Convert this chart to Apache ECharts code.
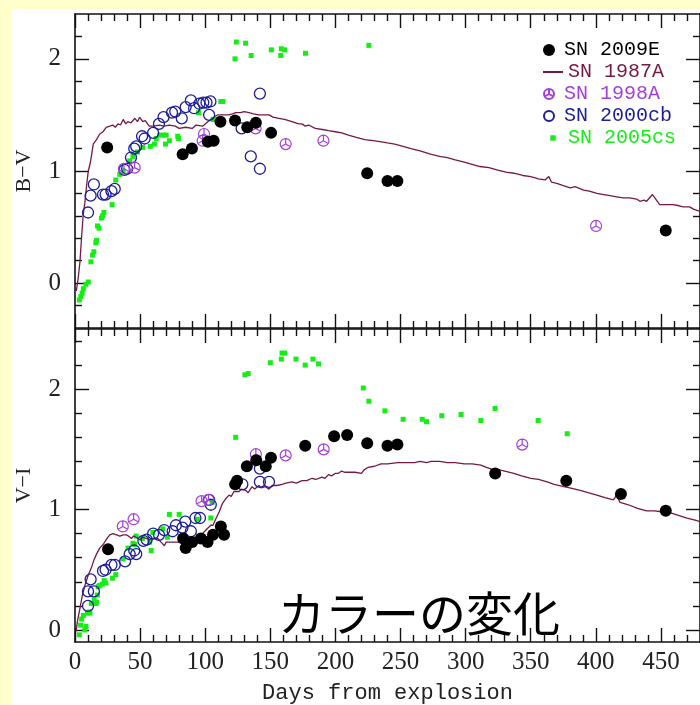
<!DOCTYPE html>
<html><head><meta charset="utf-8">
<script src="https://cdn.jsdelivr.net/npm/echarts@6/dist/echarts.min.js"></script>
<style>html,body{margin:0;padding:0;background:#FFFFCC;} #c{width:700px;height:705px;}</style>
</head><body><div id="c"></div>
<script>
// ---------- DATA ----------
const xTickValues = [0, 50, 100, 150, 200, 250, 300, 350, 400, 450];
const yTickValues = [0, 1, 2];

// B - V (upper panel)
const bv2009E = [[24.7,1.21],[82.7,1.15],[89.8,1.20],[102,1.26],[106.5,1.27],[111.7,1.44],[122.9,1.45],[132.3,1.39],[138.9,1.43],[150.6,1.34],[224.4,0.98],[240,0.91],[247.6,0.91],[453.7,0.47]];
const bv1998A = [[37.6,1.02],[45.8,1.03],[99.1,1.33],[98,1.27],[138.7,1.38],[161.8,1.24],[190.8,1.27],[400.2,0.51]];
const bv2000cb = [[10,0.63],[12,0.78],[14.5,0.88],[21.5,0.79],[23.5,0.79],[28,0.82],[30.5,0.84],[38,1.01],[40,1.02],[43,1.12],[45.5,1.20],[47,1.22],[51.5,1.31],[53.5,1.29],[60,1.34],[64.5,1.42],[68,1.48],[74.5,1.52],[77,1.53],[82,1.47],[85,1.57],[89,1.63],[91.5,1.56],[95.5,1.60],[98.5,1.61],[101,1.61],[104,1.62],[103,1.50],[128,1.38],[135,1.13],[142,1.69],[142,1.02]];
const bv2005cs = [[3.3,-0.15],[4.5,-0.12],[5.5,-0.09],[6.4,-0.05],[8.4,-0.01],[10.2,0.01],[12.2,0.19],[13.5,0.25],[14.5,0.28],[16,0.36],[16.5,0.38],[17.3,0.51],[18.5,0.49],[20.3,0.58],[21.2,0.60],[22.2,0.63],[28.5,0.70],[31.3,0.92],[34.4,0.97],[37,1.00],[42,1.09],[44.5,1.13],[48,1.17],[52,1.21],[57.8,1.22],[61,1.24],[62.4,1.29],[65,1.32],[68,1.32],[70,1.32],[69.5,1.24],[72.5,1.27],[78.9,1.31],[79.6,1.29],[94.9,1.52],[106,1.46],[112,1.62],[113.7,1.62],[122.9,2.00],[123.9,2.15],[131,2.14],[135.3,2.03],[150.8,2.08],[158.5,2.09],[161,2.08],[158,2.03],[177,2.05],[225.7,2.12]];
const bv1987A = [[1,-0.07],[2.5,0.05],[3.8,0.19],[5,0.40],[6.3,0.61],[7.6,0.72],[8.8,0.86],[10.2,1.0],[11.5,1.06],[12.7,1.14],[14,1.24],[16.5,1.28],[19,1.33],[21.5,1.35],[24,1.39],[26.7,1.40],[29,1.41],[31,1.39],[33,1.42],[35,1.41],[37,1.46],[39,1.42],[40.5,1.44],[43,1.43],[46,1.47],[48,1.44],[49.6,1.48],[52,1.44],[54,1.45],[57,1.40],[60,1.40],[65,1.41],[68,1.40],[72.5,1.41],[77,1.40],[80,1.38],[85,1.39],[90,1.38],[93,1.41],[98,1.40],[102,1.44],[105.6,1.47],[109.4,1.50],[113,1.50],[118,1.50],[121,1.51],[123.4,1.52],[127,1.52],[130,1.53],[133.6,1.52],[137,1.51],[141,1.50],[145,1.50],[149,1.50],[152,1.48],[156.5,1.47],[161,1.46],[166.6,1.44],[171.8,1.42],[174.3,1.42],[176.8,1.40],[179.4,1.41],[184.5,1.38],[190,1.37],[194.7,1.36],[200,1.35],[204.8,1.34],[210,1.32],[216,1.30],[222.6,1.28],[229,1.27],[235.3,1.26],[240,1.25],[245.6,1.24],[252,1.22],[258,1.20],[265,1.18],[273,1.15],[280,1.13],[286,1.12],[292,1.10],[299,1.08],[305,1.06],[311,1.04],[318,1.03],[324,1.01],[331,0.99],[337,0.98],[344,0.96],[350,0.95],[356,0.93],[361,0.92],[363.9,0.95],[366,0.90],[370,0.89],[375,0.87],[380.4,0.85],[384,0.86],[390.6,0.83],[395,0.82],[400.8,0.80],[406,0.79],[411,0.78],[416,0.77],[421,0.76],[426,0.76],[431.3,0.75],[433.8,0.73],[437,0.74],[439,0.73],[443.5,0.79],[446,0.75],[449,0.70],[454,0.70],[459,0.70],[464,0.69],[467,0.68],[472,0.68],[475,0.66],[480,0.64]];

// V - I (lower panel)
const vi2009E = [[25.4,0.67],[83,0.76],[85,0.68],[90,0.73],[96.7,0.76],[101.8,0.73],[106,0.79],[112,0.86],[114.5,0.79],[123,1.21],[124.5,1.24],[132,1.36],[139.2,1.41],[146.5,1.36],[150.5,1.43],[176.8,1.53],[199,1.61],[209,1.62],[224.4,1.55],[240,1.53],[247.6,1.54],[322.7,1.30],[377.3,1.24],[419.3,1.13],[453.7,0.99]];
const vi1998A = [[36.7,0.86],[45,0.92],[97.2,1.07],[102.5,1.08],[138.9,1.46],[161.8,1.45],[191,1.50],[343.5,1.54]];
const vi2000cb = [[10,0.20],[10,0.32],[12,0.42],[14.5,0.32],[21.5,0.49],[23.5,0.50],[28,0.54],[30.5,0.54],[38.5,0.57],[42,0.63],[45.5,0.66],[47,0.63],[52.5,0.74],[55,0.75],[60,0.80],[64.5,0.79],[68.5,0.83],[75,0.82],[77.5,0.87],[82.5,0.85],[84.7,0.90],[89,0.82],[92.5,0.93],[96,0.93],[103,1.08],[104.3,1.04],[128.5,1.21],[142,1.34],[142,1.23],[149,1.23]];
const vi2005cs = [[3.3,-0.04],[4.3,0.04],[5.1,0.09],[6.4,0.12],[7.6,0.00],[8.4,0.03],[9.4,0.14],[10.9,0.15],[11.5,0.14],[12.5,0.22],[14.7,0.25],[16,0.22],[16.5,0.23],[17.2,0.29],[17.8,0.36],[19,0.37],[21,0.38],[22.4,0.41],[23.7,0.39],[28.7,0.43],[31.3,0.46],[36.9,0.59],[40.7,0.68],[44.5,0.72],[45.8,0.71],[47,0.78],[51.7,0.76],[57.3,0.73],[58.5,0.66],[59.8,0.81],[67.4,0.84],[71,0.77],[72.5,0.96],[80,0.96],[94,0.92],[104.3,0.93],[105.3,1.06],[123.4,1.60],[130.5,2.12],[133,2.13],[150,2.22],[159,2.30],[161,2.30],[158.5,2.25],[169.7,2.25],[176.8,2.20],[182.7,2.25],[187,2.21],[221.4,2.01],[225.7,1.90],[238,1.82],[252,1.75],[266.7,1.75],[270,1.73],[281.7,1.78],[296.5,1.79],[311.7,1.74],[322.6,1.84],[355.7,1.74],[378,1.63]];
const vi1987A = [[0.8,-0.01],[2,0.08],[3.8,0.18],[5.5,0.28],[7.6,0.37],[10,0.45],[12.7,0.52],[14.5,0.58],[16.5,0.63],[19,0.68],[21.6,0.71],[24,0.75],[26.7,0.79],[29.2,0.80],[32,0.79],[34.4,0.78],[37,0.79],[39.4,0.79],[41,0.78],[43.3,0.76],[45,0.78],[47,0.77],[49.6,0.75],[52,0.77],[54.7,0.76],[57,0.75],[59.8,0.76],[63.6,0.76],[66.1,0.73],[68.7,0.70],[70,0.73],[73.8,0.73],[77,0.73],[80.2,0.73],[84,0.73],[87.8,0.76],[91.6,0.76],[95.4,0.79],[98,0.80],[100.5,0.83],[104.3,0.87],[106,0.87],[108,0.92],[110.7,0.98],[112,0.97],[113.2,1.05],[115.8,1.09],[118.3,1.12],[120,1.11],[122.1,1.15],[126,1.15],[128,1.17],[131,1.16],[133,1.14],[136,1.19],[138,1.17],[141.2,1.20],[143,1.18],[146.3,1.19],[149,1.17],[151.4,1.20],[155,1.20],[159,1.21],[162,1.22],[166.7,1.23],[170,1.22],[174.3,1.24],[178,1.24],[182,1.26],[185,1.25],[189.6,1.27],[192,1.26],[194.7,1.29],[197,1.28],[199.8,1.30],[202,1.30],[204.8,1.32],[207,1.31],[210,1.31],[215,1.31],[220,1.30],[222,1.33],[225,1.35],[230,1.36],[235,1.38],[240,1.38],[248,1.39],[255,1.39],[260.8,1.39],[265,1.40],[270,1.39],[273.5,1.40],[280,1.40],[286,1.39],[292,1.39],[299,1.38],[305,1.38],[311.7,1.37],[316,1.35],[321.6,1.33],[326,1.33],[330,1.32],[337,1.30],[343,1.28],[350,1.26],[356,1.25],[362.6,1.23],[368,1.21],[375.3,1.19],[380,1.18],[388,1.16],[394,1.14],[400.8,1.12],[407,1.10],[413.5,1.08],[416,1.12],[418.6,1.06],[425,1.04],[432,1.01],[439,0.99],[445,0.99],[451.7,0.98],[458,0.97],[464,0.95],[470,0.93],[477,0.91],[480,0.90]];

const legendNames = ['SN 2009E', 'SN 1987A', 'SN 1998A', 'SN 2000cb', 'SN 2005cs'];
const title = 'カラーの変化';

// ---------- STYLE ----------
const C = {
  e09: '#000000', a87: '#751a45', a98: '#a43fdc', cb00: '#1e1e98', cs05: '#14ee14', axis: '#111111'
};
const serif = '"Liberation Serif", "Times New Roman", serif';
const mono = '"Liberation Mono", "DejaVu Sans Mono", monospace';
const X_MIN = 0, X_MAX = 480;
const xMinor = []; for (let v = 10; v < X_MAX; v += 10) if (v % 50) xMinor.push(v);
const topRange = [-0.4, 2.4], botRange = [-0.1, 2.5];
function yMinorFor(r){ const a=[]; for (let k=Math.ceil(r[0]*5+1e-9); k<=Math.floor(r[1]*5-1e-9); k++){ if (k%5) a.push(+(k/5).toFixed(1)); } return a; }
const peace = 'path://M0,-10A10,10,0,1,1,0,10A10,10,0,1,1,0,-10ZM0,0L0,-10M0,0L-8.66,5M0,0L8.66,5';

function xAx(grid, pos, major, labels, name){
  const o = {
    type:'value', gridIndex:grid, position:pos, min:X_MIN, max:X_MAX,
    axisLine:{show:major, onZero:false, lineStyle:{color:C.axis, width:1.6}},
    axisTick:{show:true, inside:true, length: major?14:7, customValues: major? xTickValues : xMinor, lineStyle:{color:C.axis, width:1.4}},
    axisLabel:{show:labels, customValues:xTickValues, margin:8, fontFamily:serif, fontSize:25, color:'#222'},
    splitLine:{show:false}
  };
  if (name){ o.name=name; o.nameLocation='middle'; o.nameGap=40; o.nameTextStyle={fontFamily:mono, fontSize:22, color:'#222'}; }
  return o;
}
function yAx(grid, pos, major, labels, range, name){
  const o = {
    type:'value', gridIndex:grid, position:pos, min:range[0], max:range[1],
    axisLine:{show:major, onZero:false, lineStyle:{color:C.axis, width:1.6}},
    axisTick:{show:true, inside:true, length: major?14:7, customValues: major? yTickValues : yMinorFor(range), lineStyle:{color:C.axis, width:1.4}},
    axisLabel:{show:labels, customValues:yTickValues, margin:14, fontFamily:serif, fontSize:25, color:'#222'},
    splitLine:{show:false}
  };
  if (name){ o.name=name; o.nameLocation='middle'; o.nameRotate=90; o.nameGap=40; o.nameTextStyle={fontFamily:serif, fontSize:22, color:'#222'}; }
  return o;
}

const xAxes = [
  xAx(0,'bottom',true,false), xAx(0,'bottom',false,false), xAx(0,'top',true,false), xAx(0,'top',false,false),
  xAx(1,'bottom',true,true,'Days from explosion'), xAx(1,'bottom',false,false), xAx(1,'top',true,false), xAx(1,'top',false,false)
];
const yAxes = [
  yAx(0,'left',true,true,topRange,'B\u2212V'), yAx(0,'left',false,false,topRange), yAx(0,'right',true,false,topRange), yAx(0,'right',false,false,topRange),
  yAx(1,'left',true,true,botRange,'V\u2212I'), yAx(1,'left',false,false,botRange), yAx(1,'right',true,false,botRange), yAx(1,'right',false,false,botRange)
];

function panelSeries(p, d87, d09, d98, d00, d05){
  const xi = p*4, yi = p*4;
  return [
    {name:legendNames[4], type:'scatter', xAxisIndex:xi, yAxisIndex:yi, data:d05, symbol:'rect', symbolSize:5, itemStyle:{color:C.cs05, opacity:1}, z:2},
    {name:legendNames[1], type:'line', xAxisIndex:xi, yAxisIndex:yi, data:d87, symbol:'none', lineStyle:{color:C.a87, width:1.3}, itemStyle:{color:C.a87}, z:3},
    {name:legendNames[3], type:'scatter', xAxisIndex:xi, yAxisIndex:yi, data:d00, symbol:'circle', symbolSize:11, itemStyle:{color:'rgba(0,0,0,0)', borderColor:C.cb00, borderWidth:1.3, opacity:1}, z:4},
    {name:legendNames[2], type:'scatter', xAxisIndex:xi, yAxisIndex:yi, data:d98, symbol:peace, symbolSize:11, symbolKeepAspect:true, itemStyle:{color:'rgba(0,0,0,0)', borderColor:C.a98, borderWidth:1.2, opacity:1}, z:5},
    {name:legendNames[0], type:'scatter', xAxisIndex:xi, yAxisIndex:yi, data:d09, symbol:'circle', symbolSize:12, itemStyle:{color:C.e09, opacity:1}, z:6}
  ];
}

const legendRows = [
  {name:legendNames[0], color:C.e09, h:12, y:50},
  {name:legendNames[1], color:C.a87, h:2, y:72, icon:'rect'},
  {name:legendNames[2], color:C.a98, h:10, y:94},
  {name:legendNames[3], color:C.cb00, h:10, y:116},
  {name:legendNames[4], color:C.cs05, h:20, y:138, icon:'path://M0,0M20,20M7.3,7.3L12.7,7.3L12.7,12.7L7.3,12.7Z'}
];
const legends = legendRows.map(r => {
  const lg = {
    data:[r.icon ? {name:r.name, icon:r.icon} : r.name], left:543, top:r.y-10, padding:0, itemWidth:20, itemHeight:r.h, selectedMode:false,
    textStyle:{fontFamily:mono, fontSize:20, color:r.color}
  };
  if (r.icon) lg.itemStyle = {color:r.color, borderWidth:0};
  return lg;
});

const option = {
  animation:false,
  backgroundColor:'#FFFFCC',
  graphic:[
    {type:'rect', left:12, top:9, shape:{width:688, height:696}, style:{fill:'#ffffff'}, z:-10, silent:true},
    {type:'text', left:278, top:590, style:{text:title, font:'47px "Noto Sans CJK JP"', fill:'#000'}, z:10, silent:true}
  ],
  grid:[
    {left:75, top:14, width:629, height:314},
    {left:75, top:329, width:629, height:314.5}
  ],
  xAxis:xAxes, yAxis:yAxes,
  legend:legends,
  series:[...panelSeries(0,bv1987A,bv2009E,bv1998A,bv2000cb,bv2005cs), ...panelSeries(1,vi1987A,vi2009E,vi1998A,vi2000cb,vi2005cs)]
};
const chart = echarts.init(document.getElementById('c'), null, {renderer:'canvas'});
chart.setOption(option);
</script></body></html>
